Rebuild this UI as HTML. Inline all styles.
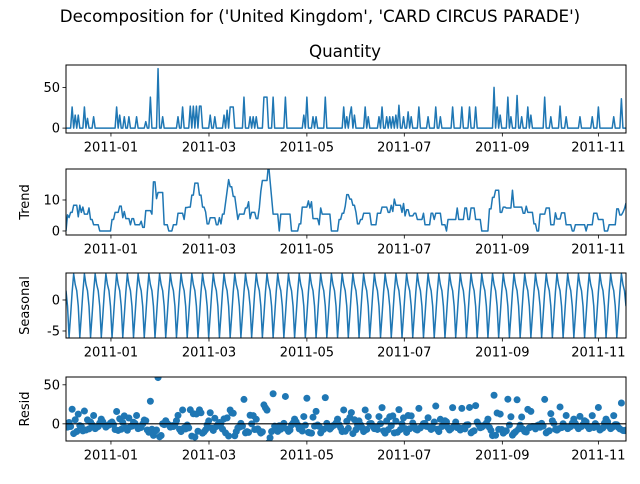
<!DOCTYPE html>
<html><head><meta charset="utf-8"><style>
body{margin:0;background:#fff;font-family:"DejaVu Sans","Liberation Sans",sans-serif}
svg text{font-family:"DejaVu Sans","Liberation Sans",sans-serif}
</style></head><body>
<svg id="fig" width="640" height="480" xmlns="http://www.w3.org/2000/svg">
<rect width="640" height="480" fill="#fff"/>
<text x="320" y="22" font-size="16.7" text-anchor="middle">Decomposition for ('United Kingdom', 'CARD CIRCUS PARADE')</text>
<text x="345" y="57" font-size="16.7" text-anchor="middle">Quantity</text>
</svg>
<script>
// ---- data ----
const N = 366;
const spikeDays = [4,6,8,12,14,18,33,35,38,41,46,52,55,60,63,73,76,81,83,85,87,88,94,97,103,105,107,108,109,116,120,122,124,129,130,131,135,143,155,157,161,163,169,181,183,185,186,188,195,197,204,206,209,211,213,215,217,220,223,225,230,236,241,244,252,258,263,267,279,281,283,288,290,294,297,301,303,312,316,322,326,335,343,347,357,362];
const spikeValues = [26,16,16,26,12,14,26,16,14,14,14,8,38,73,14,14,26,27,27,27,27,27,16,14,16,22,26,26,26,38,14,14,14,38,38,38,38,38,16,38,14,14,38,26,14,16,26,16,26,14,14,26,14,14,14,16,28,14,20,14,26,14,26,14,26,26,26,26,50,26,16,38,14,40,14,26,16,38,14,27,14,14,14,26,14,36];
const seasonalPattern = [4.2,2.5,1.5,-1.0,-6.0,-2.5,1.3];
const seasonalPhase = 2;
const tickIdx = [29.3,93.2,157,220.5,284.4,347];
const tickLabels = ['2011-01','2011-03','2011-05','2011-07','2011-09','2011-11'];

// derived series
const quantity = new Array(N).fill(0);
spikeDays.forEach((d,k)=>{quantity[d]=spikeValues[k];});
const seasonal = quantity.map((_,i)=>seasonalPattern[(i+seasonalPhase)%7]);
const trend = quantity.map((_,i)=>{let s=0,c=0;for(let j=i-3;j<=i+3;j++){if(j>=0&&j<N){s+=quantity[j];c++;}}return s/c;});
const resid = quantity.map((q,i)=>q-trend[i]-seasonal[i]);

const svg=document.getElementById('fig');
const NS='http://www.w3.org/2000/svg';
const X0=66,X1=626;
const xs=i=>X0+(X1-X0)*i/(N-1);
function el(tag,attrs,parent){const e=document.createElementNS(NS,tag);for(const k in attrs)e.setAttribute(k,attrs[k]);(parent||svg).appendChild(e);return e;}

const panels=[
 {name:'quantity',top:65,bot:133,ymin:-6,ymax:77.5,ticks:[0,50],data:quantity,label:'',type:'line'},
 {name:'trend',top:169,bot:235,ymin:-1.3,ymax:20,ticks:[0,10],data:trend,label:'Trend',type:'line'},
 {name:'seasonal',top:273,bot:338,ymin:-6.13,ymax:4.35,ticks:[-5,0],data:seasonal,label:'Seasonal',type:'line'},
 {name:'resid',top:377,bot:441,ymin:-22,ymax:60,ticks:[0,50],data:resid,label:'Resid',type:'scatter'}
];
panels.forEach(p=>{
 const ys=v=>p.bot-(v-p.ymin)/(p.ymax-p.ymin)*(p.bot-p.top);
 const g=el('g',{});
 
 
 const clipId='clip-'+p.name;
 const cp=el('clipPath',{id:clipId},g);el('rect',{x:X0,y:p.top,width:X1-X0,height:p.bot-p.top},cp);
 if(p.type==='line'){
  const d=p.data.map((v,i)=>(i?'L':'M')+xs(i).toFixed(2)+','+ys(v).toFixed(2)).join('');
  const path=el('path',{d:d,fill:'none',stroke:'#1f77b4','stroke-width':1.5,'stroke-linejoin':'round','clip-path':'url(#'+clipId+')'},g);
  
  
 } else {
  const mg=el('g',{'clip-path':'url(#'+clipId+')'},g);
  p.data.forEach((v,i)=>{
   const c=el('circle',{cx:xs(i).toFixed(2),cy:ys(v).toFixed(2),r:3.5,fill:'#1f77b4'},mg);
   
   
  });
  const zl=el('line',{x1:X0,x2:X1,y1:ys(0),y2:ys(0),stroke:'#000','stroke-width':1.2},g);
  
  
 }
 const fr=el('rect',{x:X0,y:p.top,width:X1-X0,height:p.bot-p.top,fill:'none',stroke:'#000','stroke-width':1},g);
 
 
 p.ticks.forEach(t=>{
  const y=ys(t);
  el('line',{x1:X0-3.5,x2:X0,y1:y,y2:y,stroke:'#000','stroke-width':0.8},g);
  const tx=el('text',{x:X0-6,y:y+4.5,'font-size':13,'text-anchor':'end'},g);tx.textContent=t;
  
  
 });
 tickIdx.forEach((ti,k)=>{
  const x=xs(ti);
  el('line',{x1:x,x2:x,y1:p.bot,y2:p.bot+3.5,stroke:'#000','stroke-width':0.8},g);
  const tx=el('text',{x:x,y:p.bot+18.5,'font-size':13,'text-anchor':'middle'},g);tx.textContent=tickLabels[k];
  
  
 });
 if(p.label){
  const cy=(p.top+p.bot)/2;
  const lb=el('text',{x:29,y:cy,'font-size':13,'text-anchor':'middle',transform:'rotate(-90 29 '+cy+')'},g);
  lb.textContent=p.label;
  
  
 }
});
</script>
</body></html>
